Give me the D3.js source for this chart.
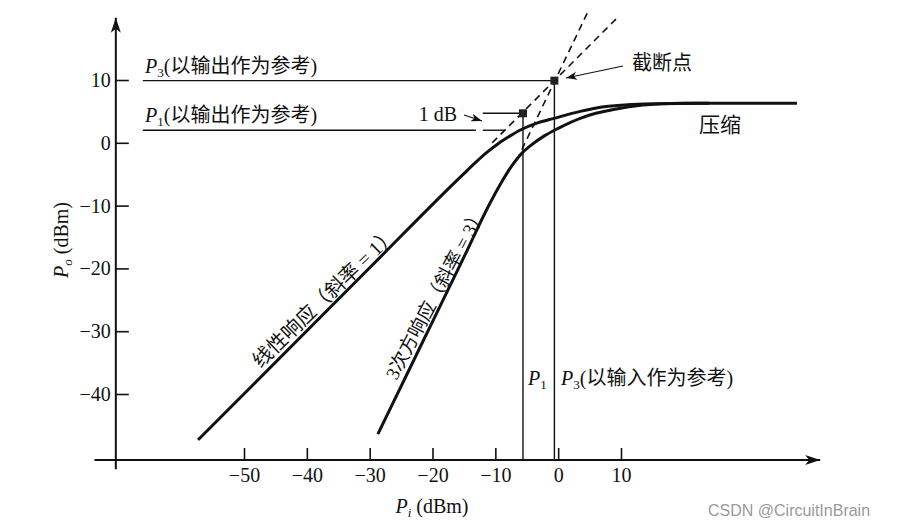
<!DOCTYPE html>
<html>
<head>
<meta charset="utf-8">
<script src="https://cdn.jsdelivr.net/npm/d3@7"></script>
<style>
body { margin: 0; background: #fff; }
text { font-family: "Liberation Serif", "Noto Sans CJK SC", serif; fill: #111; }
</style>
</head>
<body>
<svg id="chart" width="910" height="526"></svg>
<script>
// tick values
var xTicks = [-50, -40, -30, -20, -10, 0, 10];
var yTicks = [10, 0, -10, -20, -30, -40];

// [Pi, Po] in dBm
var linearResponse = [[-57.3, -47.3], [-30, -19.9], [-15, -4.9], [-13, -3.0], [-11.3, -1.5], [-9.5, -0.1],
    [-7.8, 1.0], [-6.1, 2.0], [-3.5, 3.1], [-0.8, 3.85], [3.5, 5.0], [7, 5.7], [11, 6.05], [16, 6.22], [22, 6.3], [38, 6.3]];
var cubicResponse = [[-28.7, -46.4], [-22, -32.6], [-15, -18.2], [-11, -9.9], [-9.2, -6.6], [-7.6, -4.0], [-6, -1.9],
    [-4.2, -0.3], [-2.2, 1.1], [0, 2.3], [3.5, 3.9], [6, 4.7], [9, 5.35], [13.5, 6.0], [19.4, 6.3], [24, 6.3]];
var linearExtension = [[-10.5, 0], [9.4, 19.9]];
var cubicExtension = [[-6.6, -2.8], [4.8, 21.0]];
var interceptPoint = [-0.6, 9.9];
var p1Point = [-5.6, 4.7];
var p1OutLevel = 2.0;

var svg = d3.select("#chart");

var x = d3.scaleLinear().domain([-50, 10]).range([244, 621]);
var y = d3.scaleLinear().domain([-40, 10]).range([394, 80]);

var axisPo = -50.5, axisPi = -70.4;

var defs = svg.append("defs");
defs.append("marker").attr("id", "axisArrow")
    .attr("viewBox", "0 -6 16 12").attr("refX", 15).attr("refY", 0)
    .attr("markerWidth", 16).attr("markerHeight", 12)
    .attr("markerUnits", "userSpaceOnUse").attr("orient", "auto")
    .append("path").attr("d", "M0,-5L15,0L0,5L4,0Z").attr("fill", "#111");
defs.append("marker").attr("id", "smallArrow")
    .attr("viewBox", "0 -5 12 10").attr("refX", 11).attr("refY", 0)
    .attr("markerWidth", 12).attr("markerHeight", 10)
    .attr("markerUnits", "userSpaceOnUse").attr("orient", "auto")
    .append("path").attr("d", "M0,-4L11,0L0,4L3,0Z").attr("fill", "#111");

// axis lines with arrows
svg.append("line")
    .attr("x1", x(-73.8)).attr("x2", x(41.7))
    .attr("y1", y(axisPo)).attr("y2", y(axisPo))
    .attr("stroke", "#111").attr("stroke-width", 2)
    .attr("marker-end", "url(#axisArrow)");
svg.append("line")
    .attr("x1", x(axisPi)).attr("x2", x(axisPi))
    .attr("y1", y(-52)).attr("y2", y(19.9))
    .attr("stroke", "#111").attr("stroke-width", 2)
    .attr("marker-end", "url(#axisArrow)");

var fmt = d3.format("d");
var gx = svg.append("g")
    .attr("transform", "translate(0," + y(axisPo) + ")")
    .call(d3.axisBottom(x).tickValues(xTicks).tickSize(-12).tickPadding(8).tickFormat(fmt));
gx.select(".domain").remove();
gx.selectAll(".tick line").attr("stroke", "#111").attr("stroke-width", 1.6);
gx.selectAll(".tick text").attr("font-size", 20).attr("fill", "#111")
    .style("font-family", "'Liberation Serif', serif");

var gy = svg.append("g")
    .attr("transform", "translate(" + x(axisPi) + ",0)")
    .call(d3.axisLeft(y).tickValues(yTicks).tickSize(-13).tickPadding(5).tickFormat(fmt));
gy.select(".domain").remove();
gy.selectAll(".tick line").attr("stroke", "#111").attr("stroke-width", 1.6);
gy.selectAll(".tick text").attr("font-size", 20).attr("fill", "#111")
    .style("font-family", "'Liberation Serif', serif");

// reference lines
function hline(p0, p1, po, dash) {
    svg.append("line")
        .attr("x1", x(p0)).attr("x2", x(p1)).attr("y1", y(po)).attr("y2", y(po))
        .attr("stroke", "#111").attr("stroke-width", 1.4)
        .attr("stroke-dasharray", dash || null);
}
function vline(pi, po0, po1) {
    svg.append("line")
        .attr("x1", x(pi)).attr("x2", x(pi)).attr("y1", y(po0)).attr("y2", y(po1))
        .attr("stroke", "#111").attr("stroke-width", 1.4);
}
hline(-66.1, interceptPoint[0], interceptPoint[1]);
hline(-66.1, -13.1, p1OutLevel);
hline(-12.0, -8.5, p1OutLevel);
hline(-12.0, p1Point[0], p1Point[1]);
vline(p1Point[0], p1Point[1], axisPo);
vline(interceptPoint[0], interceptPoint[1], axisPo);

// dashed extrapolations
var line = d3.line().x(function (d) { return x(d[0]); }).y(function (d) { return y(d[1]); });
[linearExtension, cubicExtension].forEach(function (d) {
    svg.append("path").attr("d", line(d))
        .attr("fill", "none").attr("stroke", "#111").attr("stroke-width", 1.6)
        .attr("stroke-dasharray", "7,5");
});

// response curves
var curve = d3.line().curve(d3.curveMonotoneX)
    .x(function (d) { return x(d[0]); }).y(function (d) { return y(d[1]); });
[linearResponse, cubicResponse].forEach(function (d) {
    svg.append("path").attr("d", curve(d))
        .attr("fill", "none").attr("stroke", "#111").attr("stroke-width", 3)
        .attr("stroke-linejoin", "round");
});

// square points
[interceptPoint, p1Point].forEach(function (d) {
    svg.append("rect")
        .attr("x", x(d[0]) - 4).attr("y", y(d[1]) - 4)
        .attr("width", 8).attr("height", 8).attr("fill", "#222");
});

// labels with subscripts
function pLabel(px, py, sub, rest) {
    var t = svg.append("text").attr("x", px).attr("y", py).attr("font-size", 20);
    t.append("tspan").attr("font-style", "italic").text("P");
    t.append("tspan").attr("font-size", 13).attr("dy", 4).text(sub);
    if (rest) t.append("tspan").attr("dy", -4).text("(" + rest + ")");
    return t;
}
pLabel(145, y(interceptPoint[1]) - 8, "3", "以输出作为参考");
pLabel(145, y(p1OutLevel) - 8, "1", "以输出作为参考");
pLabel(528, 385, "1");
pLabel(561, 385, "3", "以输入作为参考");

svg.append("text").attr("x", 457).attr("y", 121).attr("text-anchor", "end")
    .attr("font-size", 20).text("1 dB");
svg.append("line").attr("x1", 464).attr("y1", 115).attr("x2", 482).attr("y2", 121)
    .attr("stroke", "#111").attr("stroke-width", 1.2).attr("marker-end", "url(#smallArrow)");

svg.append("text").attr("x", 632).attr("y", 70).attr("font-size", 20).text("截断点");
svg.append("line").attr("x1", 623).attr("y1", 66).attr("x2", 566).attr("y2", 78)
    .attr("stroke", "#111").attr("stroke-width", 1.2).attr("marker-end", "url(#smallArrow)");

svg.append("text").attr("x", 699).attr("y", 132).attr("font-size", 21).text("压缩");

// rotated curve labels
svg.append("text")
    .attr("transform", "translate(" + x(-37.2) + "," + y(-24.6) + ") rotate(-44)")
    .attr("text-anchor", "middle").attr("dominant-baseline", "central")
    .attr("font-size", 20).text("线性响应（斜率 = 1）");
svg.append("text")
    .attr("transform", "translate(" + x(-19.5) + "," + y(-24.0) + ") rotate(-62)")
    .attr("text-anchor", "middle").attr("dominant-baseline", "central")
    .attr("font-size", 19).text("3次方响应（斜率 = 3）");

// axis titles
var xt = svg.append("text").attr("x", 432).attr("y", 513).attr("text-anchor", "middle").attr("font-size", 20);
xt.append("tspan").attr("font-style", "italic").text("P");
xt.append("tspan").attr("font-size", 13).attr("font-style", "italic").attr("dy", 4).text("i");
xt.append("tspan").attr("dy", -4).text(" (dBm)");

var yt = svg.append("text").attr("transform", "translate(68,240) rotate(-90)")
    .attr("text-anchor", "middle").attr("font-size", 20);
yt.append("tspan").attr("font-style", "italic").text("P");
yt.append("tspan").attr("font-size", 13).attr("font-style", "italic").attr("dy", 4).text("o");
yt.append("tspan").attr("dy", -4).text(" (dBm)");

// watermark
svg.append("text").attr("x", 708).attr("y", 516)
    .style("font-family", "'Liberation Sans', Arial, sans-serif")
    .style("fill", "#9a9a9a").attr("font-size", 16).text("CSDN @CircuitInBrain");
</script>
</body>
</html>
